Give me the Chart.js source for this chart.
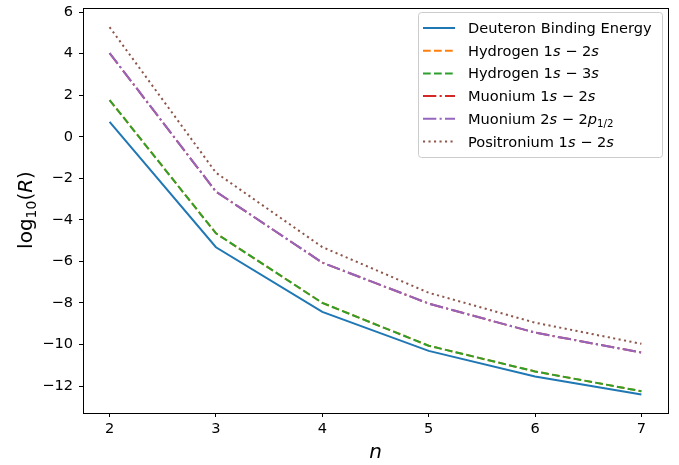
<!DOCTYPE html>
<html>
<head>
<meta charset="utf-8">
<script src="https://cdn.jsdelivr.net/npm/chart.js@4.4.0/dist/chart.umd.min.js"></script>
<style>
  html, body { margin: 0; padding: 0; background: #fff; }
  #wrap { width: 679px; height: 465px; }
</style>
</head>
<body>
<div id="wrap"><canvas id="chart" width="679" height="465"></canvas></div>
<script>
// ---------------------------------------------------------
// Data
// ---------------------------------------------------------
const nValues = [2, 3, 4, 5, 6, 7];
const xTicks = [2, 3, 4, 5, 6, 7];
const yTicks = [-12, -10, -8, -6, -4, -2, 0, 2, 4, 6];

const deuteron = [0.72, -5.32, -8.43, -10.31, -11.54, -12.41];
const hydrogen12 = [1.77, -4.65, -8.0, -10.06, -11.3, -12.25];
const hydrogen13 = [1.77, -4.65, -8.0, -10.06, -11.3, -12.25];
const muonium12 = [4.03, -2.64, -6.06, -8.03, -9.43, -10.39];
const muonium2s2p = [4.03, -2.64, -6.06, -8.03, -9.43, -10.39];
const positronium = [5.28, -1.73, -5.31, -7.51, -8.95, -9.97];

const FONT = "'DejaVu Sans', sans-serif";
const FS = 14.6;

function toPoints(vals) {
  return vals.map((v, i) => ({ x: nValues[i], y: v }));
}

// legend labels as text runs: [text, style] where style n=normal, i=italic, sub=subscript
const legendRows = [
  { color: '#1f77b4', dash: [], runs: [['Deuteron Binding Energy', 'n']] },
  { color: '#ff7f0e', dash: [7.7, 3.3], runs: [['Hydrogen 1', 'n'], ['s', 'i'], [' \u2212 2', 'n'], ['s', 'i']] },
  { color: '#2ca02c', dash: [7.7, 3.3], runs: [['Hydrogen 1', 'n'], ['s', 'i'], [' \u2212 3', 'n'], ['s', 'i']] },
  { color: '#d62728', dash: [13.3, 3.3, 2.1, 3.3], runs: [['Muonium 1', 'n'], ['s', 'i'], [' \u2212 2', 'n'], ['s', 'i']] },
  { color: '#9467bd', dash: [13.3, 3.3, 2.1, 3.3], runs: [['Muonium 2', 'n'], ['s', 'i'], [' \u2212 2', 'n'], ['p', 'i'], ['1/2', 'sub']] },
  { color: '#8c564b', dash: [2.1, 3.4], runs: [['Positronium 1', 'n'], ['s', 'i'], [' \u2212 2', 'n'], ['s', 'i']] }
];

function setRunFont(ctx, st, size) {
  if (st === 'i') ctx.font = 'italic ' + size + 'px ' + FONT;
  else if (st === 'sub') ctx.font = (size * 0.7) + 'px ' + FONT;
  else ctx.font = size + 'px ' + FONT;
}

// draw a sequence of text runs starting at x, baseline y
function drawRuns(ctx, runs, x, y, size) {
  runs.forEach(([txt, st]) => {
    setRunFont(ctx, st, size);
    const dy = st === 'sub' ? size * 0.22 : 0;
    ctx.fillText(txt, x, y + dy);
    x += ctx.measureText(txt).width;
  });
  return x;
}

function runsWidth(ctx, runs, size) {
  let w = 0;
  runs.forEach(([txt, st]) => {
    setRunFont(ctx, st, size);
    w += ctx.measureText(txt).width;
  });
  return w;
}

// ---------------------------------------------------------
// Plugin: frame, axis titles and legend box
// ---------------------------------------------------------
const decorPlugin = {
  id: 'decor',
  afterDraw(chart) {
    const ctx = chart.ctx;
    const a = chart.chartArea;
    ctx.save();

    // full axes frame
    ctx.strokeStyle = '#000';
    ctx.lineWidth = 1;
    ctx.strokeRect(Math.round(a.left) + 0.5, Math.round(a.top) + 0.5,
      Math.round(a.right - a.left), Math.round(a.bottom - a.top));

    ctx.fillStyle = '#000';
    ctx.textBaseline = 'alphabetic';

    // x title
    ctx.font = 'italic 20px ' + FONT;
    ctx.textAlign = 'center';
    ctx.fillText('n', (a.left + a.right) / 2, 458);

    // y title (rotated)
    ctx.textAlign = 'left';
    const yRuns = [['log', 'n'], ['10', 'sub'], ['(', 'n'], ['R', 'i'], [')', 'n']];
    const yw = runsWidth(ctx, yRuns, 20);
    ctx.save();
    ctx.translate(32, 210);
    ctx.rotate(-Math.PI / 2);
    drawRuns(ctx, yRuns, -yw / 2, 0, 20);
    ctx.restore();

    // legend box
    const bx = 418, by = 12, bw = 244, bh = 145;
    ctx.fillStyle = 'rgba(255,255,255,0.8)';
    ctx.strokeStyle = '#cccccc';
    ctx.lineWidth = 1;
    ctx.beginPath();
    ctx.roundRect(bx + 0.5, by + 0.5, bw, bh, 3);
    ctx.fill();
    ctx.stroke();

    legendRows.forEach((row, i) => {
      const cy = 28 + i * 22.7;
      ctx.strokeStyle = row.color;
      ctx.lineWidth = 2;
      ctx.lineCap = 'butt';
      ctx.setLineDash(row.dash);
      ctx.beginPath();
      ctx.moveTo(423, cy);
      ctx.lineTo(455, cy);
      ctx.stroke();
      ctx.setLineDash([]);
      ctx.fillStyle = '#000';
      drawRuns(ctx, row.runs, 468, cy + 5, FS);
    });

    ctx.restore();
  }
};

// ---------------------------------------------------------
// Chart
// ---------------------------------------------------------
function ds(vals, color, dash, order) {
  return {
    data: toPoints(vals),
    borderColor: color,
    backgroundColor: color,
    borderWidth: 2,
    borderDash: dash,
    borderCapStyle: 'butt',
    pointRadius: 0,
    fill: false,
    tension: 0,
    order: order
  };
}

new Chart(document.getElementById('chart'), {
  type: 'line',
  data: {
    datasets: [
      ds(deuteron, '#1f77b4', [], 6),
      ds(hydrogen12, '#ff7f0e', [7.7, 3.3], 5),
      ds(hydrogen13, '#2ca02c', [7.7, 3.3], 4),
      ds(muonium12, '#d62728', [13.3, 3.3, 2.1, 3.3], 3),
      ds(muonium2s2p, '#9467bd', [13.3, 3.3, 2.1, 3.3], 2),
      ds(positronium, '#8c564b', [2.1, 3.4], 1)
    ]
  },
  options: {
    responsive: false,
    animation: false,
    layout: { padding: { left: 0, top: 8, right: 11, bottom: 0 } },
    plugins: {
      legend: { display: false },
      tooltip: { enabled: false }
    },
    scales: {
      x: {
        type: 'linear',
        min: 1.75,
        max: 7.25,
        afterBuildTicks: (s) => { s.ticks = xTicks.map(v => ({ value: v })); },
        afterFit: (s) => { s.height = 52; s.paddingLeft = 0; s.paddingRight = 0; },
        grid: { drawOnChartArea: false, drawTicks: true, tickLength: 4, color: '#000' },
        border: { color: '#000' },
        ticks: {
          color: '#000',
          font: { family: FONT, size: FS },
          padding: 3,
          maxRotation: 0,
          callback: (v) => String(v)
        }
      },
      y: {
        type: 'linear',
        min: -13.3,
        max: 6.2,
        afterBuildTicks: (s) => { s.ticks = yTicks.map(v => ({ value: v })); },
        afterFit: (s) => { s.width = 83; s.paddingTop = 0; s.paddingBottom = 0; },
        grid: { drawOnChartArea: false, drawTicks: true, tickLength: 4, color: '#000' },
        border: { color: '#000' },
        ticks: {
          color: '#000',
          font: { family: FONT, size: FS },
          padding: 6,
          callback: (v) => String(v).replace('-', '\u2212')
        }
      }
    }
  },
  plugins: [decorPlugin]
});
</script>
</body>
</html>
